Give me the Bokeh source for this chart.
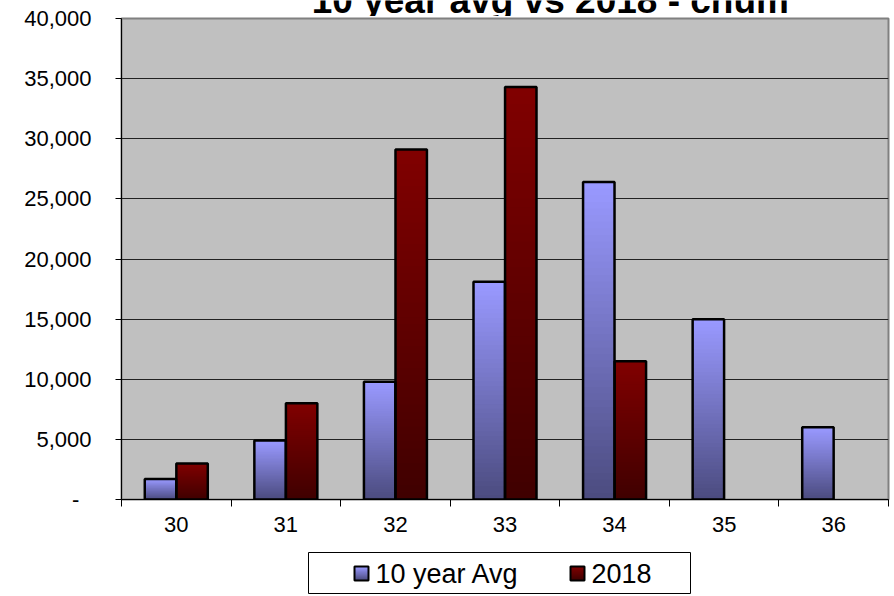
from bokeh.plotting import figure
from bokeh.models import FixedTicker, Range1d, ColumnDataSource
from bokeh.layouts import column
from bokeh.embed import file_html
from bokeh.resources import INLINE
from bokeh.core.properties import value

# ---------------- data ----------------
categories = ["30", "31", "32", "33", "34", "35", "36"]
avg_10yr = [1700, 4900, 9800, 18100, 26400, 15000, 6000]
y2018 = [3000, 8000, 29100, 34300, 11500, 0, 0]
y_ticks = [0, 5000, 10000, 15000, 20000, 25000, 30000, 35000, 40000]
y_tick_labels = ["-\u00a0\u00a0", "5,000", "10,000", "15,000", "20,000",
                 "25,000", "30,000", "35,000", "40,000"]
title_text = "10 year  avg vs 2018 - chum"
legend_labels = ["10 year Avg", "2018"]

# ---------------- style ----------------
FONT = "Liberation Sans"
avg_top, avg_bot = (0x99, 0x99, 0xFF), (0x4C, 0x4C, 0x80)
red_top, red_bot = (0x80, 0x00, 0x00), (0x40, 0x00, 0x00)
BAR_W = 0.287
OFF = 0.144
NSEG = 48
W = 890
FL, FR = 121, 888          # frame left / right (page px), shared by all strips


def mix(c_bot, c_top, t):
    r = [round(b + (a - b) * t) for a, b in zip(c_top, c_bot)]
    return "#%02x%02x%02x" % tuple(r)


def gradient_source(xs, vals, c_top, c_bot):
    gx, gtop, gcol = [], [], []
    for x, v in zip(xs, vals):
        if not v:
            continue
        for k in range(NSEG - 1, -1, -1):
            gx.append(x)
            gtop.append(v * (k + 1) / NSEG)
            gcol.append(mix(c_bot, c_top, k / (NSEG - 1)))
    return ColumnDataSource(dict(x=gx, top=gtop, color=gcol))


def strip(h):
    f = figure(width=W, height=h, x_range=Range1d(FL, FR), y_range=Range1d(0, h),
               output_backend="svg", toolbar_location=None, x_axis_type=None,
               y_axis_type=None, min_border_left=FL, min_border_right=W - FR,
               min_border_top=0, min_border_bottom=0)
    f.grid.visible = False
    f.outline_line_color = None
    f.background_fill_color = "white"
    f.border_fill_color = "white"
    return f


n = len(categories)
centers = [i + 0.5 for i in range(n)]
bounds = [float(i) for i in range(n + 1)]
x_avg = [c - OFF for c in centers]
x_new = [c + OFF for c in centers]

# ---------------- title strip (top of the title is cut off, as in the reference) ----
TH = 16
tfig = strip(TH)
tfig.text(x=[555], y=[TH - 0.2], text=[title_text], text_font=value(FONT),
          text_font_size="37px", text_font_style="bold", text_align="center",
          text_baseline="middle", text_color="black")

# ---------------- main chart (overlaps the title strip, transparent border) --------
p = figure(width=W, height=546, x_range=Range1d(0, n), y_range=Range1d(0, 40000),
           output_backend="svg", toolbar_location=None,
           min_border_left=FL, min_border_right=W - FR, min_border_top=18, min_border_bottom=47,
           margin=(-TH, 0, 0, 0))
p.background_fill_color = "#C0C0C0"
p.border_fill_color = None
p.outline_line_color = "#808080"
p.outline_line_width = 2

p.vbar(x="x", top="top", bottom=0, width=BAR_W, fill_color="color", line_color=None,
       source=gradient_source(x_avg, avg_10yr, avg_top, avg_bot))
p.vbar(x="x", top="top", bottom=0, width=BAR_W, fill_color="color", line_color=None,
       source=gradient_source(x_new, y2018, red_top, red_bot))
oa = [(x, v) for x, v in zip(x_avg, avg_10yr) if v]
on = [(x, v) for x, v in zip(x_new, y2018) if v]
p.vbar(x=[a for a, _ in oa], top=[b for _, b in oa], bottom=0, width=BAR_W,
       fill_color=None, line_color="black", line_width=2.5)
p.vbar(x=[a for a, _ in on], top=[b for _, b in on], bottom=0, width=BAR_W,
       fill_color=None, line_color="black", line_width=2.5)

xa = p.xaxis[0]
xa.ticker = FixedTicker(ticks=centers, minor_ticks=bounds)
xa.major_label_overrides = {c: lab for c, lab in zip(centers, categories)}
xa.major_tick_out = 0
xa.major_tick_in = 0
xa.minor_tick_out = 7
xa.minor_tick_in = 0
xa.minor_tick_line_color = "black"
xa.axis_line_color = "black"
xa.major_label_standoff = 10
xa.major_label_text_font = FONT
xa.major_label_text_font_size = "22px"
xa.major_label_text_color = "black"

ya = p.yaxis[0]
ya.ticker = FixedTicker(ticks=y_ticks)
ya.major_label_overrides = {t: lab for t, lab in zip(y_ticks, y_tick_labels)}
ya.major_tick_out = 6
ya.major_tick_in = 0
ya.minor_tick_line_color = None
ya.major_tick_line_color = "black"
ya.axis_line_color = "black"
ya.major_label_standoff = 24
ya.major_label_text_font = FONT
ya.major_label_text_font_size = "22px"
ya.major_label_text_color = "black"

p.xgrid.visible = False
p.ygrid.ticker = FixedTicker(ticks=y_ticks)
p.ygrid.grid_line_color = "#222222"
p.ygrid.grid_line_width = 1

# ---------------- legend strip ----------------
LH = 50
leg = strip(LH)
leg.quad(left=308, right=690, bottom=3, top=44, fill_color="white", line_color="black",
         line_width=1)
sw_x = [354, 570]
sw_cols = [(avg_top, avg_bot), (red_top, red_bot)]
for sx, (ct, cb), lab in zip(sw_x, sw_cols, legend_labels):
    ns = 14
    lefts, rights, tops, bots, cols = [], [], [], [], []
    for k in range(ns - 1, -1, -1):
        lefts.append(sx); rights.append(sx + 14)
        bots.append(16); tops.append(16 + 14 * (k + 1) / ns)
        cols.append(mix(cb, ct, k / (ns - 1)))
    leg.quad(left=lefts, right=rights, bottom=bots, top=tops, fill_color=cols, line_color=None)
    leg.quad(left=[sx], right=[sx + 14], bottom=[16], top=[30], fill_color=None,
             line_color="black", line_width=2)
    leg.text(x=[sx + 21], y=[23], text=[lab], text_font=value(FONT), text_font_size="27px",
             text_baseline="middle", text_align="left", text_color="black")

layout = column(tfig, p, leg, spacing=0)
open("out.html", "w").write(file_html(layout, INLINE))
